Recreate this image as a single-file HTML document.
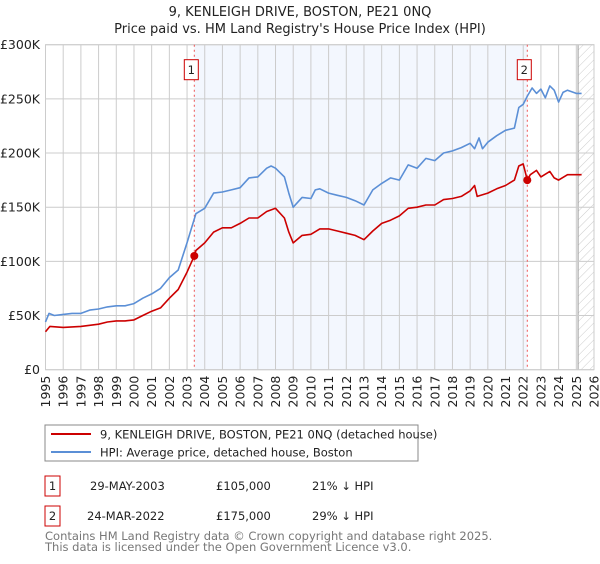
<!DOCTYPE html>
<html><head><meta charset="utf-8"><style>
body{margin:0;background:#fff;font-family:"DejaVu Sans","Liberation Sans",sans-serif;}
svg text{font-family:"DejaVu Sans","Liberation Sans",sans-serif;}
</style></head><body>
<svg id="chart" width="600" height="560" xmlns="http://www.w3.org/2000/svg">
<defs><pattern id="hatch" width="6" height="6" patternUnits="userSpaceOnUse" patternTransform="rotate(45)"><line x1="0" y1="0" x2="0" y2="6" stroke="#ccc" stroke-width="1"/></pattern></defs>
<text x="300" y="16" text-anchor="middle" font-size="13" fill="#222">9, KENLEIGH DRIVE, BOSTON, PE21 0NQ</text>
<text x="300" y="33" text-anchor="middle" font-size="13" fill="#222">Price paid vs. HM Land Registry's House Price Index (HPI)</text>
<g id="plot"></g>
<g>
<rect x="45" y="425" width="373" height="36" fill="#fff" stroke="#888"/>
<line x1="51" y1="434" x2="91" y2="434" stroke="#cc0000" stroke-width="2"/>
<text x="100" y="438.5" font-size="11.5" fill="#222">9, KENLEIGH DRIVE, BOSTON, PE21 0NQ (detached house)</text>
<line x1="51" y1="452" x2="91" y2="452" stroke="#5b8fd6" stroke-width="2"/>
<text x="100" y="456.5" font-size="11.5" fill="#222">HPI: Average price, detached house, Boston</text>
</g>
<g font-size="11.5" fill="#222">
<rect x="45" y="476" width="15" height="20" fill="#fff" stroke="#cc0000"/>
<text x="52.5" y="490" text-anchor="middle">1</text>
<text x="90" y="490">29-MAY-2003</text>
<text x="216" y="490">£105,000</text>
<text x="312" y="490">21% ↓ HPI</text>
<rect x="45" y="506" width="15" height="20" fill="#fff" stroke="#cc0000"/>
<text x="52.5" y="520" text-anchor="middle">2</text>
<text x="87" y="520">24-MAR-2022</text>
<text x="216" y="520">£175,000</text>
<text x="312" y="520">29% ↓ HPI</text>
</g>
<text x="45" y="540" font-size="11.5" fill="#777">Contains HM Land Registry data © Crown copyright and database right 2025.</text>
<text x="45" y="551" font-size="11.5" fill="#777">This data is licensed under the Open Government Licence v3.0.</text>
</svg>
<script>
const hpiYears=[1995,1995.2,1995.5,1996,1996.5,1997,1997.5,1998,1998.5,1999,1999.5,2000,2000.5,2001,2001.5,2002,2002.5,2003,2003.5,2004,2004.5,2005,2005.5,2006,2006.5,2007,2007.5,2007.75,2008,2008.5,2008.75,2009,2009.5,2010,2010.25,2010.5,2011,2011.5,2012,2012.5,2013,2013.5,2014,2014.5,2015,2015.5,2016,2016.5,2017,2017.5,2018,2018.5,2019,2019.25,2019.5,2019.7,2020,2020.5,2021,2021.5,2021.75,2022,2022.25,2022.5,2022.75,2023,2023.25,2023.5,2023.75,2024,2024.25,2024.5,2025,2025.3];
const hpiValues=[44,52,50,51,52,52,55,56,58,59,59,61,66,70,75,85,92,117,144,149,163,164,166,168,177,178,186,188,186,178,163,150,159,158,166,167,163,161,159,156,152,166,172,177,175,189,186,195,193,200,202,205,209,204,214,204,210,216,221,223,242,245,253,260,255,259,251,262,258,247,256,258,255,255];
const ppYears=[1995,1995.25,1996,1997,1998,1998.5,1999,1999.5,2000,2000.5,2001,2001.5,2002,2002.5,2003,2003.41,2003.5,2004,2004.5,2005,2005.5,2006,2006.5,2007,2007.5,2008,2008.5,2008.75,2009,2009.5,2010,2010.5,2011,2011.5,2012,2012.5,2013,2013.5,2014,2014.5,2015,2015.5,2016,2016.5,2017,2017.5,2018,2018.5,2019,2019.25,2019.4,2020,2020.5,2021,2021.5,2021.75,2022,2022.23,2022.4,2022.75,2023,2023.5,2023.75,2024,2024.5,2025,2025.3];
const ppValues=[35,40,39,40,42,44,45,45,46,50,54,57,66,74,90,105,110,117,127,131,131,135,140,140,146,149,140,127,117,124,125,130,130,128,126,124,120,128,135,138,142,149,150,152,152,157,158,160,165,170,160,163,167,170,175,188,190,175,180,184,178,183,177,175,180,180,180];
const saleYears=[2003.41,2022.23];
const saleValues=[105,175];
const saleLabels=["1","2"];
const yTicks=[0,50,100,150,200,250,300];
const yTickLabels=["£0","£50K","£100K","£150K","£200K","£250K","£300K"];
const xTicks=[1995,1996,1997,1998,1999,2000,2001,2002,2003,2004,2005,2006,2007,2008,2009,2010,2011,2012,2013,2014,2015,2016,2017,2018,2019,2020,2021,2022,2023,2024,2025,2026];

const L=45.5,R=594,T=44.7,B=369.7,NS="http://www.w3.org/2000/svg";
const xs=y=>L+(y-1995)/(2026-1995)*(R-L);
const ys=v=>B-v/300*(B-T);
const g=document.getElementById('plot');
function mk(tag,attrs,parent){const e=document.createElementNS(NS,tag);for(const k in attrs)e.setAttribute(k,attrs[k]);(parent||g).appendChild(e);return e;}
const shade=mk('rect',{x:xs(saleYears[0]),y:T,width:xs(saleYears[1])-xs(saleYears[0]),height:B-T,fill:'#eef3fd',opacity:0.7});


const hatch=mk('rect',{x:xs(2025.1),y:T,width:R-xs(2025.1),height:B-T,fill:'url(#hatch)'});


mk('line',{x1:xs(2025.1),y1:T,x2:xs(2025.1),y2:B,stroke:'#999','stroke-width':1});
xTicks.forEach(t=>{mk('line',{x1:xs(t),y1:T,x2:xs(t),y2:B,stroke:'#ccc','stroke-width':1});
 const tx=mk('text',{x:0,y:0,'font-size':12.5,fill:'#222','text-anchor':'end',transform:`translate(${xs(t)+4.5},${B+6}) rotate(-90)`});tx.textContent=t;
 
 });
yTicks.forEach((t,i)=>{mk('line',{x1:L,y1:ys(t),x2:R,y2:ys(t),stroke:'#ccc','stroke-width':1});
 const tx=mk('text',{x:40,y:ys(t)+4.5,'font-size':12.5,fill:'#222','text-anchor':'end'});tx.textContent=yTickLabels[i];
 
 });
mk('rect',{x:L,y:T,width:R-L,height:B-T,fill:'none',stroke:'#ccc'});
saleYears.forEach((y,i)=>{const l=mk('line',{x1:xs(y),y1:T,x2:xs(y),y2:B,stroke:'#e55','stroke-width':1,'stroke-dasharray':'2,3'});
 
 
 const bx=mk('rect',{x:xs(y)-10,y:T+15,width:14,height:20,fill:'#fff',stroke:'#cc0000'});
 
 
 const tx=mk('text',{x:xs(y)-3,y:T+29.5,'font-size':11.5,'text-anchor':'middle',fill:'#222'});tx.textContent=saleLabels[i];});
function path(xa,va,color,name){const d=xa.map((x,i)=>(i?'L':'M')+xs(x).toFixed(1)+','+ys(va[i]).toFixed(1)).join('');
 const p=mk('path',{d:d,fill:'none',stroke:color,'stroke-width':1.6,'stroke-linejoin':'round'});
 
 }
path(hpiYears,hpiValues,'#5b8fd6','hpi-line');
path(ppYears,ppValues,'#cc0000','price-paid-line');
saleYears.forEach((y,i)=>{const c=mk('circle',{cx:xs(y),cy:ys(saleValues[i]),r:4,fill:'#cc0000'});
 
 });
</script>
</body></html>
